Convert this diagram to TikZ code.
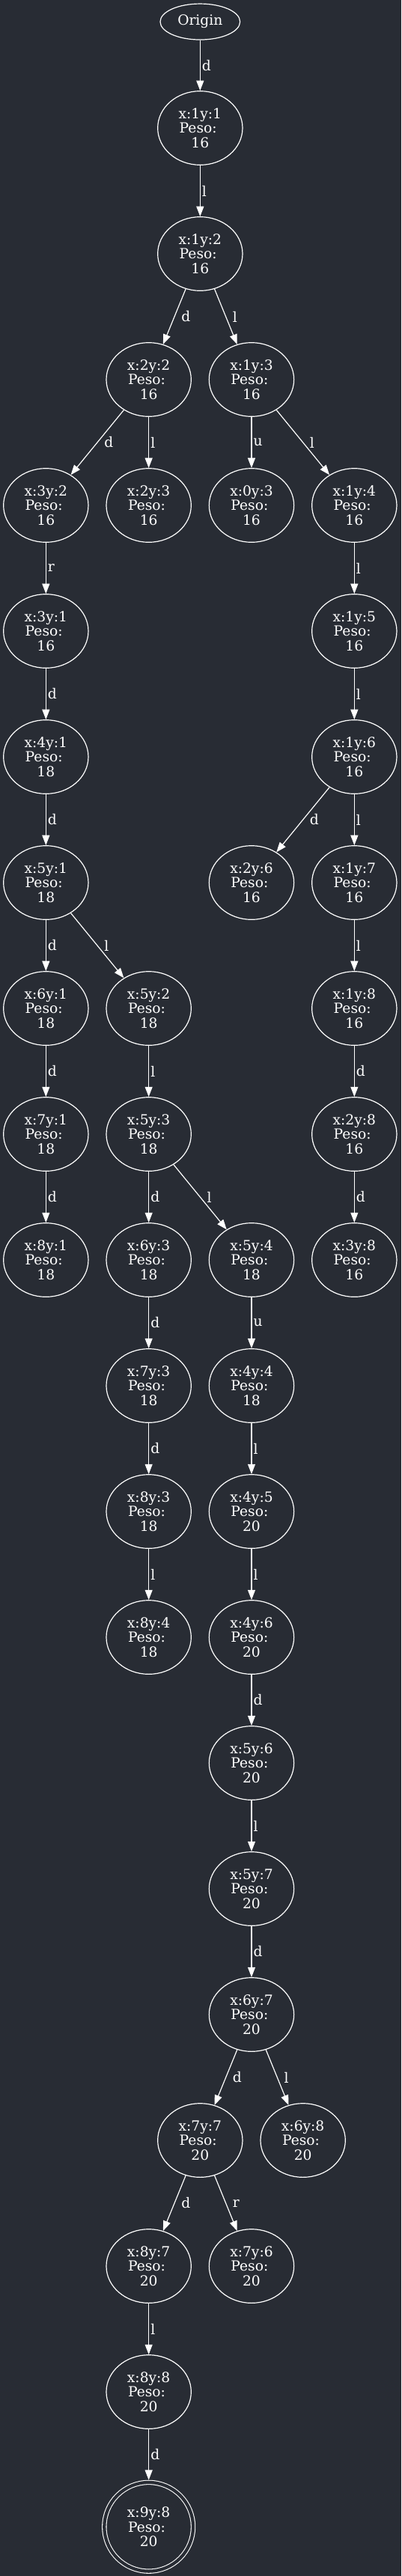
\documentclass[tikz,border=0pt]{standalone}
\usepackage{fontspec}
\setmainfont{DejaVu Serif}
\usepackage{tikz}
\usetikzlibrary{positioning,shapes.geometric,arrows.meta}
\definecolor{bgcol}{HTML}{282C34}
\newcommand{\estado}[3]{x:#1y:#2\\Peso:\kern4pt\\#3}

\begin{document}
\begin{tikzpicture}[x=103pt, y=-126pt,
	font=\fontsize{14pt}{14.6pt}\selectfont, text=white,
	cell/.style={ellipse, draw=white, line width=0.9pt, minimum width=85pt, minimum height=74pt, inner sep=0pt, align=center},
	startcell/.style={cell, minimum width=80pt, minimum height=36pt},
	goal/.style={circle, draw=white, line width=0.8pt, double=bgcol, double distance=3.2pt, minimum size=89pt, inner sep=0pt, outer sep=2.4pt, align=center},
	link/.style={draw=white, line width=0.9pt, -{Triangle[length=10pt,width=7.5pt]}},
	lab/.style={right, inner sep=1.5pt},
	labd/.style={lab, xshift=5pt}]
	\fill[bgcol] (-0.4466,-0.0179) rectangle (3.4563,20.4643);
	\node[startcell] (org) at (1.5,0.155) {Origin};
	\node[cell] (n11) at (1.5,1) {\estado{1}{1}{16}};
	\node[cell] (n12) at (1.5,2) {\estado{1}{2}{16}};
	\node[cell] (n22) at (1,3) {\estado{2}{2}{16}};
	\node[cell] (n13) at (2,3) {\estado{1}{3}{16}};
	\node[cell] (n32) at (0,4) {\estado{3}{2}{16}};
	\node[cell] (n23) at (1,4) {\estado{2}{3}{16}};
	\node[cell] (n03) at (2,4) {\estado{0}{3}{16}};
	\node[cell] (n14) at (3,4) {\estado{1}{4}{16}};
	\node[cell] (n31) at (0,5) {\estado{3}{1}{16}};
	\node[cell] (n15) at (3,5) {\estado{1}{5}{16}};
	\node[cell] (n41) at (0,6) {\estado{4}{1}{18}};
	\node[cell] (n16) at (3,6) {\estado{1}{6}{16}};
	\node[cell] (n51) at (0,7) {\estado{5}{1}{18}};
	\node[cell] (n26) at (2,7) {\estado{2}{6}{16}};
	\node[cell] (n17) at (3,7) {\estado{1}{7}{16}};
	\node[cell] (n61) at (0,8) {\estado{6}{1}{18}};
	\node[cell] (n52) at (1,8) {\estado{5}{2}{18}};
	\node[cell] (n18) at (3,8) {\estado{1}{8}{16}};
	\node[cell] (n71) at (0,9) {\estado{7}{1}{18}};
	\node[cell] (n53) at (1,9) {\estado{5}{3}{18}};
	\node[cell] (n28) at (3,9) {\estado{2}{8}{16}};
	\node[cell] (n81) at (0,10) {\estado{8}{1}{18}};
	\node[cell] (n63) at (1,10) {\estado{6}{3}{18}};
	\node[cell] (n54) at (2,10) {\estado{5}{4}{18}};
	\node[cell] (n38) at (3,10) {\estado{3}{8}{16}};
	\node[cell] (n73) at (1,11) {\estado{7}{3}{18}};
	\node[cell] (n44) at (2,11) {\estado{4}{4}{18}};
	\node[cell] (n83) at (1,12) {\estado{8}{3}{18}};
	\node[cell] (n45) at (2,12) {\estado{4}{5}{20}};
	\node[cell] (n84) at (1,13) {\estado{8}{4}{18}};
	\node[cell] (n46) at (2,13) {\estado{4}{6}{20}};
	\node[cell] (n56) at (2,14) {\estado{5}{6}{20}};
	\node[cell] (n57) at (2,15) {\estado{5}{7}{20}};
	\node[cell] (n67) at (2,16) {\estado{6}{7}{20}};
	\node[cell] (n77) at (1.5,17) {\estado{7}{7}{20}};
	\node[cell] (n68) at (2.5,17) {\estado{6}{8}{20}};
	\node[cell] (n87) at (1,18) {\estado{8}{7}{20}};
	\node[cell] (n76) at (2,18) {\estado{7}{6}{20}};
	\node[cell] (n88) at (1,19) {\estado{8}{8}{20}};
	\node[goal] (n98) at (1,20.073) {\estado{9}{8}{20}};
	\draw[link] (org) -- node[lab] {d} (n11);
	\draw[link] (n11) -- node[lab] {l} (n12);
	\draw[link] (n12) -- node[labd] {d} (n22);
	\draw[link] (n12) -- node[labd] {l} (n13);
	\draw[link] (n22) -- node[labd] {d} (n32);
	\draw[link] (n22) -- node[lab] {l} (n23);
	\draw[link] (n13) -- node[lab] {u} (n03);
	\draw[link] (n13) -- node[labd] {l} (n14);
	\draw[link] (n32) -- node[lab] {r} (n31);
	\draw[link] (n14) -- node[lab] {l} (n15);
	\draw[link] (n31) -- node[lab] {d} (n41);
	\draw[link] (n15) -- node[lab] {l} (n16);
	\draw[link] (n41) -- node[lab] {d} (n51);
	\draw[link] (n16) -- node[labd] {d} (n26);
	\draw[link] (n16) -- node[lab] {l} (n17);
	\draw[link] (n51) -- node[lab] {d} (n61);
	\draw[link] (n51) -- node[labd] {l} (n52);
	\draw[link] (n17) -- node[lab] {l} (n18);
	\draw[link] (n61) -- node[lab] {d} (n71);
	\draw[link] (n52) -- node[lab] {l} (n53);
	\draw[link] (n18) -- node[lab] {d} (n28);
	\draw[link] (n71) -- node[lab] {d} (n81);
	\draw[link] (n53) -- node[lab] {d} (n63);
	\draw[link] (n53) -- node[labd] {l} (n54);
	\draw[link] (n28) -- node[lab] {d} (n38);
	\draw[link] (n63) -- node[lab] {d} (n73);
	\draw[link] (n54) -- node[lab] {u} (n44);
	\draw[link] (n73) -- node[lab] {d} (n83);
	\draw[link] (n44) -- node[lab] {l} (n45);
	\draw[link] (n83) -- node[lab] {l} (n84);
	\draw[link] (n45) -- node[lab] {l} (n46);
	\draw[link] (n46) -- node[lab] {d} (n56);
	\draw[link] (n56) -- node[lab] {l} (n57);
	\draw[link] (n57) -- node[lab] {d} (n67);
	\draw[link] (n67) -- node[labd] {d} (n77);
	\draw[link] (n67) -- node[labd] {l} (n68);
	\draw[link] (n77) -- node[labd] {d} (n87);
	\draw[link] (n77) -- node[labd] {r} (n76);
	\draw[link] (n87) -- node[lab] {l} (n88);
	\draw[link] (n88) -- node[lab] {d} (n98);
\end{tikzpicture}
\end{document}
